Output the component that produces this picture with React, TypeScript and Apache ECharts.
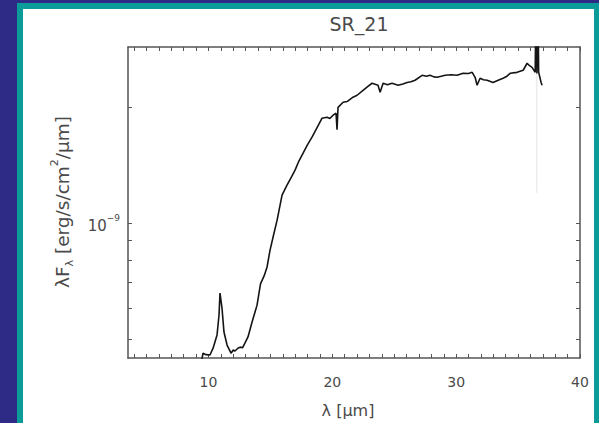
import React, { useEffect, useRef } from "react";
import * as echarts from "echarts";

// Spectrum of SR_21 (wavelength in µm, λFλ in erg/s/cm²/µm)
const wavelength = [
  9.45, 9.56, 9.8, 10.12, 10.37, 10.69, 10.85, 10.93, 11.09, 11.25, 11.5, 11.82, 12.0, 12.14,
  12.35, 12.55, 12.75, 12.95, 13.19, 13.52, 13.92, 14.2, 14.5, 14.73, 14.97, 15.25, 15.54,
  15.94, 16.34, 16.65, 16.99, 17.3, 17.64, 18.0, 18.36, 18.8, 19.17, 19.57, 19.8, 20.06, 20.3,
  20.38, 20.46, 20.87, 21.19, 21.67, 22.0, 22.48, 22.9, 23.21, 23.69, 23.86, 24.1, 24.45, 24.82,
  25.31, 25.7, 26.04, 26.35, 26.68, 27.25, 27.6, 27.89, 28.2, 28.46, 28.8, 29.11, 29.6, 30.07,
  30.56, 31.0, 31.29, 31.53, 31.69, 31.93, 32.2, 32.5, 32.98, 33.39, 33.79, 34.1, 34.36, 34.92,
  35.41, 35.73, 35.9, 36.13, 36.38, 36.46, 36.52, 36.6, 36.66, 36.86, 36.94,
];
const flux = [
  4.4e-10, 4.59e-10, 4.55e-10, 4.54e-10, 4.73e-10, 5.12e-10, 5.77e-10, 6.58e-10, 6.01e-10,
  5.21e-10, 4.82e-10, 4.59e-10, 4.68e-10, 4.65e-10, 4.72e-10, 4.76e-10, 4.74e-10, 4.88e-10,
  5.06e-10, 5.53e-10, 6.12e-10, 6.95e-10, 7.3e-10, 7.69e-10, 8.51e-10, 9.3e-10, 1.018e-9,
  1.182e-9, 1.255e-9, 1.31e-9, 1.373e-9, 1.45e-9, 1.52e-9, 1.6e-9, 1.673e-9, 1.78e-9, 1.874e-9,
  1.885e-9, 1.87e-9, 1.908e-9, 1.93e-9, 1.75e-9, 2.0e-9, 2.062e-9, 2.07e-9, 2.125e-9, 2.15e-9,
  2.215e-9, 2.27e-9, 2.31e-9, 2.283e-9, 2.19e-9, 2.31e-9, 2.29e-9, 2.31e-9, 2.283e-9, 2.3e-9,
  2.32e-9, 2.33e-9, 2.352e-9, 2.423e-9, 2.41e-9, 2.423e-9, 2.4e-9, 2.394e-9, 2.41e-9, 2.423e-9,
  2.43e-9, 2.423e-9, 2.452e-9, 2.45e-9, 2.466e-9, 2.394e-9, 2.283e-9, 2.381e-9, 2.36e-9,
  2.352e-9, 2.32e-9, 2.352e-9, 2.381e-9, 2.41e-9, 2.452e-9, 2.466e-9, 2.497e-9, 2.604e-9,
  2.57e-9, 2.541e-9, 2.466e-9, 4.0e-9, 2.45e-9, 4.0e-9, 2.47e-9, 2.32e-9, 2.283e-9,
];

// Faint noisy streak near the red end of the spectrum
const streakWavelength = [36.48, 36.5, 36.53];
const streakFlux = [2.5e-9, 1.2e-9, 2.5e-9];

// Axis ticks and labels
const xTickLabels = [10, 20, 30, 40];
const xMinorTicks = [
  4, 5, 6, 7, 8, 9, 10, 11, 12, 13, 14, 15, 16, 17, 18, 19, 20, 21, 22, 23, 24, 25, 26, 27, 28,
  29, 30, 31, 32, 33, 34, 35, 36, 37, 38, 39, 40,
];
const yTickLabels = [1e-9];
const yMinorTicks = [5e-10, 6e-10, 7e-10, 8e-10, 9e-10, 1e-9, 2e-9];

const FONT = "DejaVu Sans";
const TEXT = "#4a4a4a";
const AXIS = "#555555";

export default function App() {
  const ref = useRef<HTMLDivElement>(null);

  useEffect(() => {
    if (!ref.current) return;
    const chart = echarts.init(ref.current, undefined, { renderer: "svg" });

    const axisLine = { show: true, onZero: false, lineStyle: { color: AXIS, width: 1.5 } };
    const xBase = {
      type: "value" as const,
      min: 3.5,
      max: 40,
      axisLine,
      splitLine: { show: false },
      axisTick: {
        show: true,
        inside: true,
        length: 4,
        customValues: xMinorTicks,
        lineStyle: { color: AXIS, width: 1 },
      },
    };
    const yBase = {
      type: "log" as const,
      logBase: 10,
      min: 4.46e-10,
      max: 2.87e-9,
      axisLine,
      splitLine: { show: false },
      axisTick: {
        show: true,
        inside: true,
        length: 4,
        customValues: yMinorTicks,
        lineStyle: { color: AXIS, width: 1 },
      },
    };

    chart.setOption({
      animation: false,
      backgroundColor: "transparent",
      title: {
        text: "SR_21",
        left: 354,
        top: 9,
        textAlign: "center",
        textStyle: { fontFamily: FONT, fontSize: 19, fontWeight: "normal", color: TEXT },
      },
      grid: { left: 128, top: 47, width: 452, height: 311, containLabel: false },
      xAxis: [
        {
          ...xBase,
          position: "bottom",
          axisLabel: {
            customValues: xTickLabels,
            color: TEXT,
            fontFamily: FONT,
            fontSize: 14,
            margin: 17,
          },
        },
        { ...xBase, position: "top", axisLabel: { show: false } },
      ],
      yAxis: [
        {
          ...yBase,
          position: "left",
          axisLabel: {
            customValues: yTickLabels,
            margin: 8,
            formatter: () => "{a|10}{b|−9}",
            rich: {
              a: { fontFamily: FONT, fontSize: 15, color: TEXT, lineHeight: 20, verticalAlign: "bottom" },
              b: { fontFamily: FONT, fontSize: 9, color: TEXT, lineHeight: 10, verticalAlign: "top" },
            },
          },
        },
        { ...yBase, position: "right", axisLabel: { show: false } },
      ],
      graphic: [
        {
          type: "text",
          x: 62,
          y: 202,
          rotation: Math.PI / 2,
          style: {
            text: "{n|λF}{s|λ}{n| [erg/s/cm}{p|2}{n|/μm]}",
            align: "center",
            verticalAlign: "middle",
            rich: {
              n: { fontFamily: FONT, fontSize: 18.5, fill: TEXT, lineHeight: 26, verticalAlign: "middle" },
              s: { fontFamily: FONT, fontSize: 11, fill: TEXT, lineHeight: 13, verticalAlign: "bottom" },
              p: { fontFamily: FONT, fontSize: 11, fill: TEXT, lineHeight: 13, verticalAlign: "top" },
            },
          },
        },
        {
          type: "text",
          x: 348,
          y: 410,
          style: {
            text: "λ [μm]",
            align: "center",
            verticalAlign: "middle",
            fontFamily: FONT,
            fontSize: 16,
            fill: TEXT,
          },
        },
      ],
      series: [
        {
          type: "line",
          xAxisIndex: 0,
          yAxisIndex: 0,
          data: streakWavelength.map((w, i) => [w, streakFlux[i]]),
          showSymbol: false,
          clip: true,
          lineStyle: { color: "#ececec", width: 1 },
          silent: true,
        },
        {
          type: "line",
          xAxisIndex: 0,
          yAxisIndex: 0,
          data: wavelength.map((w, i) => [w, flux[i]]),
          showSymbol: false,
          clip: true,
          lineStyle: { color: "#151515", width: 1.6 },
        },
      ],
    });

    return () => chart.dispose();
  }, []);

  return (
    <div
      style={{
        position: "fixed",
        left: 0,
        top: 0,
        width: 599,
        height: 423,
        background: "#2d2b85",
        overflow: "hidden",
      }}
    >
      <div
        style={{
          position: "absolute",
          left: 17,
          top: 3,
          width: 582,
          height: 420,
          background: "#0b9b98",
        }}
      />
      <div
        style={{
          position: "absolute",
          left: 23,
          top: 9,
          width: 571,
          height: 414,
          background: "#ffffff",
        }}
      />
      <div ref={ref} style={{ position: "absolute", left: 0, top: 0, width: 599, height: 423 }} />
    </div>
  );
}
